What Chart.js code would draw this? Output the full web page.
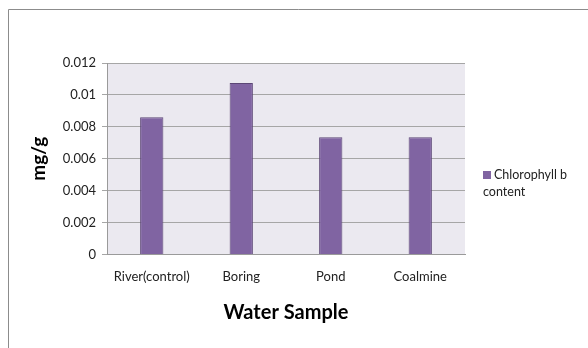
<!DOCTYPE html>
<html lang="en">
<head>
  <meta charset="UTF-8">
  <title>Chlorophyll b content</title>
  <script src="https://cdn.jsdelivr.net/npm/chart.js"></script>
  <style>
    body { margin: 0; background: #fff; }
    #wrap { position: relative; width: 588px; height: 348px; }
    #legend {
      position: absolute; left: 483px; top: 166px;
      font-family: Lato, "Open Sans", sans-serif; font-size: 12.5px; color: #222; line-height: 17px;
    }
    #legend .sw { display: inline-block; width: 8px; height: 8px; background: #8064a2; margin-right: 3px; }
  </style>
</head>
<body>
<div id="wrap">
  <canvas id="chartCanvas" width="588" height="348"></canvas>
  <div id="legend"><span class="sw"></span>Chlorophyll b<br>content</div>
</div>
<script>
  // Data
  const categories = ['River(control)', 'Boring', 'Pond', 'Coalmine'];
  const chlorophyllB = [0.0086, 0.01075, 0.00735, 0.00735];
  const seriesName = 'Chlorophyll b content';

  // plot background + outer frame
  const frame = {
    id: 'frame',
    beforeDraw(chart) {
      const { ctx, chartArea: a } = chart;
      ctx.save();
      ctx.fillStyle = '#ebe9f0';
      ctx.fillRect(a.left, a.top, a.right - a.left, a.bottom - a.top);
      ctx.strokeStyle = '#8c8c8c';
      ctx.lineWidth = 1;
      ctx.beginPath();
      ctx.moveTo(8.5, 348);
      ctx.lineTo(8.5, 9.5);
      ctx.lineTo(588, 9.5);
      ctx.stroke();
      ctx.restore();
    }
  };

  new Chart(document.getElementById('chartCanvas'), {
    type: 'bar',
    data: {
      labels: categories,
      datasets: [{
        label: seriesName,
        data: chlorophyllB,
        backgroundColor: '#8064a2',
        borderColor: '#5c4776',
        borderWidth: 1,
        categoryPercentage: 1,
        barPercentage: 0.26
      }]
    },
    options: {
      responsive: false,
      animation: false,
      layout: { padding: { left: 27, right: 123, top: 63, bottom: 19 } },
      plugins: { legend: { display: false }, tooltip: { enabled: false } },
      scales: {
        x: {
          grid: { display: false, drawTicks: false },
          border: { color: '#9a9a9a' },
          ticks: { color: '#222', padding: 15, font: { family: 'Lato', size: 13 } },
          title: { display: true, text: 'Water Sample', color: '#000', padding: { top: 1 },
                   font: { family: 'Lato', size: 20, weight: 'bold' } }
        },
        y: {
          min: 0, max: 0.012,
          afterFit(scale) { scale.width = 80; },
          grid: { color: '#a6a6a6', tickLength: 5 },
          border: { color: '#9a9a9a' },
          ticks: { stepSize: 0.002, color: '#222', padding: 6, font: { family: 'Lato', size: 13 },
                   callback: v => String(+v.toFixed(3)) },
          title: { display: true, text: 'mg/g', color: '#000', padding: 0,
                   font: { family: 'Lato', size: 19, weight: 'bold' } }
        }
      }
    },
    plugins: [frame]
  });
</script>
</body>
</html>
